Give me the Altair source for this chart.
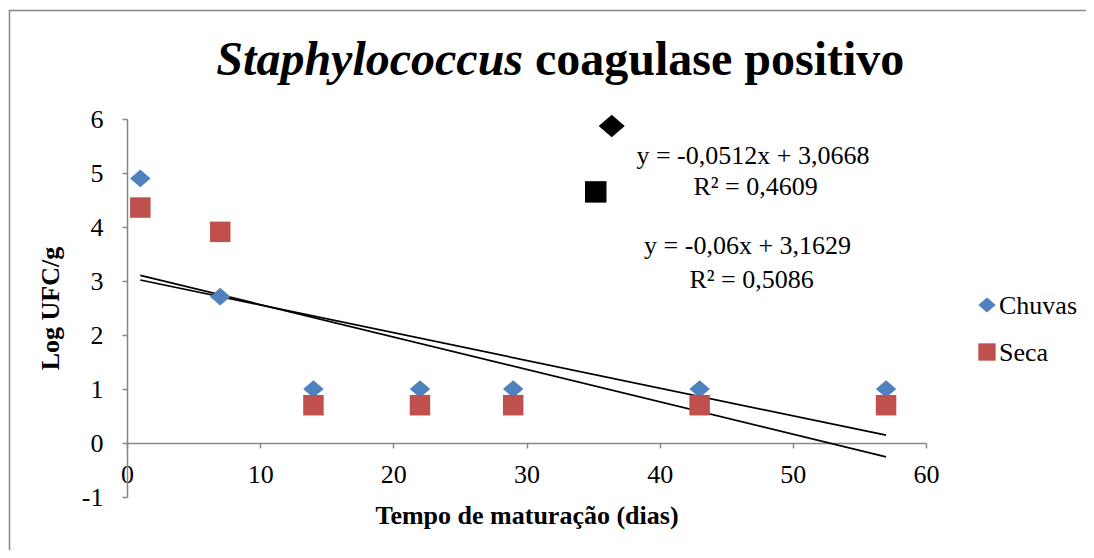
import altair as alt
import pandas as pd

# ---- data ----
dias = [1, 7, 14, 22, 29, 43, 57]
chuvas = [4.90, 2.71, 1.00, 1.00, 1.00, 1.00, 1.00]
seca = [4.36, 3.91, 0.70, 0.70, 0.70, 0.70, 0.70]
series = ["Chuvas", "Seca"]
colors = ["#4F81BD", "#C0504D"]

eq_text = ["y = -0,0512x + 3,0668", "R² = 0,4609", "y = -0,06x + 3,1629", "R² = 0,5086"]
eq_x = [47.0, 47.2, 46.6, 46.9]
eq_y = [5.16, 4.60, 3.50, 2.87]

mk_diamond_x = [36.4]
mk_diamond_y = [5.87]
mk_square_x = [35.2]
mk_square_y = [4.65]

x_ticks = [0, 10, 20, 30, 40, 50, 60]
y_ticks = [-1, 0, 1, 2, 3, 4, 5, 6]

FONT = "Liberation Serif"
FS = 26
GRAY = "#868686"
DIAMOND = "M-1,0L0,-0.86L1,0L0,0.86Z"

df = pd.DataFrame({
    "Dias": dias + dias,
    "Log": chuvas + seca,
    "Serie": ["Chuvas"] * len(dias) + ["Seca"] * len(dias),
})

color_scale = alt.Scale(domain=series, range=colors)
shape_scale = alt.Scale(domain=series, range=[DIAMOND, "square"])

x_enc = alt.X(
    "Dias:Q",
    scale=alt.Scale(domain=[0, 60], nice=False, zero=False),
    axis=alt.Axis(
        values=x_ticks, labelExpr="'' + datum.value", title="Tempo de maturação (dias)",
        offset=-54, grid=False,
        domainColor=GRAY, domainWidth=1.5, tickColor=GRAY, tickWidth=1.5, tickSize=5,
        labelFont=FONT, labelFontSize=FS, labelColor="black", labelPadding=13,
        labelOverlap=False, labelFlush=False,
        titleFont=FONT, titleFontSize=FS, titleFontWeight="bold", titleColor="black",
        titlePadding=15,
    ),
)
y_enc = alt.Y(
    "Log:Q",
    scale=alt.Scale(domain=[-1, 6], nice=False, zero=False),
    axis=alt.Axis(
        values=y_ticks, labelExpr="'' + datum.value", title="Log UFC/g", grid=False,
        domainColor=GRAY, domainWidth=1.5, tickColor=GRAY, tickWidth=1.5, tickSize=5,
        labelFont=FONT, labelFontSize=FS, labelColor="black", labelPadding=19,
        labelOverlap=False, labelFlush=False,
        titleFont=FONT, titleFontSize=FS, titleFontWeight="bold", titleColor="black",
        titlePadding=18,
    ),
)

base = alt.Chart(df)

points = base.mark_point(filled=True, opacity=1, size=420, strokeWidth=0).encode(
    x=x_enc,
    y=y_enc,
    color=alt.Color("Serie:N", scale=color_scale, legend=None),
    shape=alt.Shape("Serie:N", scale=shape_scale, legend=None),
)

lines = base.transform_regression(
    "Dias", "Log", groupby=["Serie"], extent=[1, 57]
).mark_line(color="black", strokeWidth=1.7).encode(
    x="Dias:Q", y="Log:Q", detail="Serie:N"
)

eq_df = pd.DataFrame({"x": eq_x, "y": eq_y, "t": eq_text})
equations = alt.Chart(eq_df).mark_text(
    font=FONT, fontSize=FS, color="black", align="center", baseline="alphabetic"
).encode(x="x:Q", y="y:Q", text="t:N")

mk_d = alt.Chart(pd.DataFrame({"x": mk_diamond_x, "y": mk_diamond_y})).mark_point(
    filled=True, opacity=1, color="black", shape=DIAMOND, size=680, strokeWidth=0
).encode(x="x:Q", y="y:Q")
mk_s = alt.Chart(pd.DataFrame({"x": mk_square_x, "y": mk_square_y})).mark_point(
    filled=True, opacity=1, color="black", shape="square", size=460, strokeWidth=0
).encode(x="x:Q", y="y:Q")

# legend drawn by hand (symbols still go through the shared colour/shape scales)
legend_layers = []
for i, name in enumerate(series):
    ly = 186 + 47 * i
    one = pd.DataFrame({"Serie": [name]})
    legend_layers.append(
        alt.Chart(one).mark_point(filled=True, opacity=1, size=300, strokeWidth=0).encode(
            x=alt.value(860), y=alt.value(ly),
            color=alt.Color("Serie:N", scale=color_scale, legend=None),
            shape=alt.Shape("Serie:N", scale=shape_scale, legend=None),
        )
    )
    legend_layers.append(
        alt.Chart(one).mark_text(
            font=FONT, fontSize=FS, color="black", align="left", baseline="middle"
        ).encode(x=alt.value(872), y=alt.value(ly + 1), text="Serie:N")
    )

title_italic = alt.Chart(pd.DataFrame({"t": ["Staphylococcus"]})).mark_text(
    font=FONT, fontSize=48, fontStyle="italic", fontWeight="bold", color="black",
    align="right", baseline="alphabetic"
).encode(x=alt.value(396), y=alt.value(-44), text="t:N")
title_bold = alt.Chart(pd.DataFrame({"t": ["coagulase positivo"]})).mark_text(
    font=FONT, fontSize=48, fontWeight="bold", color="black",
    align="left", baseline="alphabetic"
).encode(x=alt.value(408), y=alt.value(-44), text="t:N")

border = alt.Chart(pd.DataFrame({"b": [0]})).mark_rect(
    fill="transparent", stroke=GRAY, strokeWidth=1.5
).encode(x=alt.value(-117.5), x2=alt.value(975), y=alt.value(-108.5), y2=alt.value(470))

chart = alt.layer(
    border, lines, points, mk_d, mk_s, equations, *legend_layers, title_italic, title_bold
).properties(
    width=799, height=378,
    padding={"left": 119, "top": 111, "right": 160, "bottom": 53},
    autosize=alt.AutoSizeParams(type="none"),
).configure(font=FONT).configure_view(stroke=None)

chart.save("out.html", embed_options={"renderer": "svg", "actions": False})
